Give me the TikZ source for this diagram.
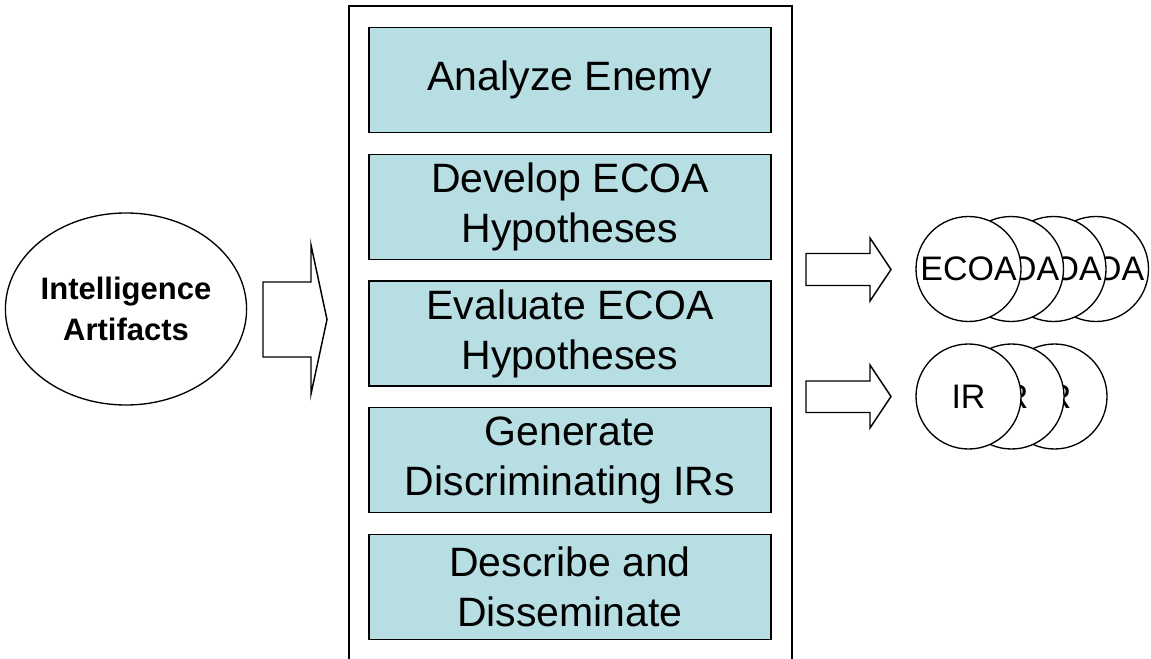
\documentclass[tikz,border=0pt]{standalone}
\usepackage{fontspec}
\setmainfont{Liberation Sans}
\usetikzlibrary{shapes.geometric}
\definecolor{stagefill}{RGB}{183,222,227}
\begin{document}
\begin{tikzpicture}[x=0.75pt,y=-0.75pt]
\tikzset{
  stage/.style={draw=black, line width=1.1pt, fill=stagefill,
    minimum width=301.5pt, minimum height=78.75pt, inner sep=0pt,
    align=center, font=\fontsize{30.75pt}{37.5pt}\selectfont},
  token/.style={circle, draw=black, line width=1pt, fill=white,
    minimum size=78.75pt, inner sep=0pt,
    font=\fontsize{25.5pt}{30pt}\selectfont},
  source/.style={ellipse, draw=black, line width=1pt, fill=white,
    minimum width=177pt, minimum height=144pt, inner sep=0pt,
    align=center, font=\fontsize{23.25pt}{30.75pt}\selectfont\bfseries},
  blockarrow/.style={draw=black, line width=1.1pt, fill=white, line join=miter},
  frameline/.style={draw=black, line width=1.1pt}
}
\useasboundingbox (0,0) rectangle (1151,659);

% input
\node[source] (intel) at (126,309) {Intelligence\\Artifacts};

% process frame, open at the bottom
\coordinate (fbl) at (349,680);
\coordinate (ftl) at (349,6);
\coordinate (ftr) at (792,6);
\coordinate (fbr) at (792,680);
\draw[frameline] (fbl) -- (ftl) -- (ftr) -- (fbr);

% process steps
\node[stage] (s1) at (570,80)     {Analyze Enemy};
\node[stage] (s2) at (570,206.75) {Develop ECOA\\Hypotheses};
\node[stage] (s3) at (570,333.5)  {Evaluate ECOA\\Hypotheses};
\node[stage] (s4) at (570,460.25) {Generate\\Discriminating IRs};
\node[stage] (s5) at (570,587)    {Describe and\\Disseminate};

% block arrows
\draw[blockarrow] (263,282) -- (311,282) -- (311,245) -- (327,319.5)
  -- (311,394) -- (311,357) -- (263,357) -- cycle;
\draw[blockarrow] (806,253.5) -- (870,253.5) -- (870,238) -- (891,269.5)
  -- (870,301) -- (870,285.5) -- (806,285.5) -- cycle;
\draw[blockarrow] (806,381) -- (870,381) -- (870,365) -- (891,396.5)
  -- (870,428) -- (870,412.5) -- (806,412.5) -- cycle;

% outputs: stacked ECOA hypotheses, back to front
\node[token] (e4) at (1096,269)   {ECOA};
\node[token] (e3) at (1053.5,269) {ECOA};
\node[token] (e2) at (1011,269)   {ECOA};
\node[token] (e1) at (968.5,269)  {ECOA};

% outputs: stacked information requirements, back to front
\node[token] (r3) at (1054.5,396.5) {IR};
\node[token] (r2) at (1011.5,396.5) {IR};
\node[token] (r1) at (968.5,396.5)  {IR};
\end{tikzpicture}
\end{document}
